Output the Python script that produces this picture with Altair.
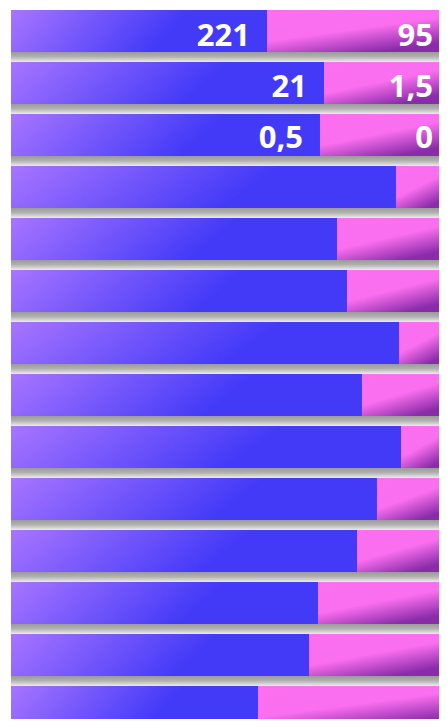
import altair as alt
import pandas as pd

rows = [f"r{i:02d}" for i in range(1, 15)]
blue = [58.72, 71.79, 70.87, 88.30, 74.77, 77.06, 88.99, 80.50, 89.45, 83.94, 79.36, 70.41, 68.35, 56.65]
pink = [41.28, 28.21, 29.13, 11.70, 25.23, 22.94, 11.01, 19.50, 10.55, 16.06, 20.64, 29.59, 31.65, 43.35]
blue_labels = ["221", "21", "0,5"] + [""] * 11
pink_labels = ["95", "1,5", "0"] + [""] * 11

df = pd.DataFrame({
    "row": rows,
    "zero": [0] * len(rows),
    "blue": blue,
    "pink": pink,
    "blue_label": blue_labels,
    "pink_label": pink_labels,
})
df["total"] = df["blue"] + df["pink"]

blue_grad = {
    "gradient": "linear", "x1": 0, "y1": 0, "x2": 1, "y2": 0.15,
    "stops": [
        {"offset": 0, "color": "#a875ff"},
        {"offset": 0.68, "color": "#433af8"},
        {"offset": 1, "color": "#433af8"},
    ],
}
pink_grad = {
    "gradient": "linear", "x1": 0, "y1": 0, "x2": 0.6, "y2": 1,
    "stops": [
        {"offset": 0, "color": "#fc70f0"},
        {"offset": 0.55, "color": "#fa6fef"},
        {"offset": 1, "color": "#8a2caa"},
    ],
}
shadow_grad = {
    "gradient": "linear", "x1": 0, "y1": 0, "x2": 0, "y2": 1,
    "stops": [
        {"offset": 0, "color": "#9a9a9a"},
        {"offset": 0.762, "color": "#9a9a9a"},
        {"offset": 0.87, "color": "#b0b0b0"},
        {"offset": 0.97, "color": "#dedede"},
        {"offset": 1, "color": "#eeeeee"},
    ],
}

W = 428          # visible plot width (bars continue past the right edge)
FULL = 436       # full bar length in pixels
PI = 10 / 52
yenc = alt.Y("row:N", sort=None, axis=None,
             scale=alt.Scale(range=[0, 718], paddingInner=PI, paddingOuter=0))
yshadow = alt.Y("row:N", sort=None, axis=None,
                scale=alt.Scale(range=[10, 728], paddingInner=PI, paddingOuter=0))
xscale = alt.Scale(domain=[0, 100], range=[0, FULL], nice=False, zero=True)

base = alt.Chart(df)

shadow = base.mark_bar(fill=shadow_grad, clip=True).encode(
    y=yshadow,
    x=alt.X("zero:Q", scale=xscale, axis=None),
    x2="total:Q",
)
blue_bar = base.mark_bar(fill=blue_grad, clip=True).encode(
    y=yenc,
    x=alt.X("zero:Q", scale=xscale, axis=None),
    x2="blue:Q",
)
pink_bar = base.mark_bar(fill=pink_grad, clip=True).encode(
    y=yenc,
    x=alt.X("blue:Q", scale=xscale, axis=None),
    x2="total:Q",
)
blue_text = base.mark_text(
    align="right", baseline="alphabetic", dx=-17, dy=10,
    font="Open Sans", fontWeight="bold", fontSize=31, color="white",
).encode(
    y=yenc,
    x=alt.X("blue:Q", scale=xscale, axis=None),
    text="blue_label:N",
)
pink_text = base.mark_text(
    align="right", baseline="alphabetic", dx=-14, dy=10,
    font="Open Sans", fontWeight="bold", fontSize=31, color="white",
).encode(
    y=yenc,
    x=alt.X("total:Q", scale=xscale, axis=None),
    text="pink_label:N",
)

chart = alt.layer(shadow, blue_bar, pink_bar, blue_text, pink_text).resolve_scale(
    y="independent"
).properties(
    width=W,
    height=709,
    padding={"left": 3, "top": 2, "right": 0, "bottom": 0},
    autosize=alt.AutoSizeParams(type="none"),
    background="white",
).configure_view(stroke=None)

chart.save("out.html", embed_options={"renderer": "svg", "actions": False})
